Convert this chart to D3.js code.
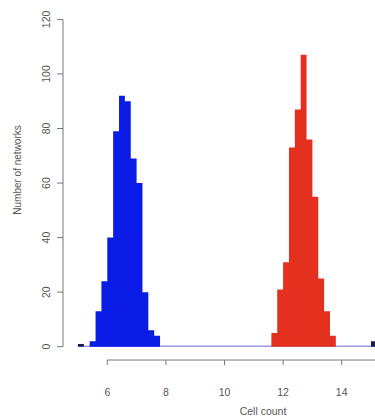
<!DOCTYPE html>
<html><head><meta charset="utf-8">
<script src="https://cdn.jsdelivr.net/npm/d3@7/dist/d3.min.js"></script>
<style>body{margin:0;background:#fff}svg{display:block}text{font-family:"Liberation Sans",Arial,sans-serif}</style>
</head><body>
<script>
const binWidth = 0.2;
const blueStart = 5.4;
const blueCounts = [2,13,24,40,79,92,90,69,60,20,6,4];
const redStart = 11.6;
const redCounts = [5,21,31,73,87,107,76,55,25,13,4];
const darkStarts = [5.0, 15.0];
const darkCounts = [1, 2];
const xTicks = [6,8,10,12,14];
const yTicks = [0,20,40,60,80,100,120];

const W=375,H=420;
const svg=d3.select("body").append("svg").attr("width",W).attr("height",H);
const x=d3.scaleLinear().domain([6,14]).range([107.3,341.7]);
const y=d3.scaleLinear().domain([0,120]).range([346.7,19.4]);

function bins(start,counts){return counts.map((c,i)=>({x0:+(start+i*binWidth).toFixed(2),c}));}
const blue=bins(blueStart,blueCounts), red=bins(redStart,redCounts);
const dark=darkStarts.map((s,i)=>({x0:s,c:darkCounts[i]}));

// baseline
svg.append("line").attr("x1",x(5.0)).attr("x2",W).attr("y1",y(0)-0.5).attr("y2",y(0)-0.5)
  .attr("stroke","#9a9ae0").attr("stroke-width",1.5);

const area=d3.area().curve(d3.curveStepAfter).x(d=>x(d.x)).y0(y(0)).y1(d=>y(d.c));
function draw(data,color){
  const pts=data.map(d=>({x:d.x0,c:d.c}));
  const last=data[data.length-1];
  pts.push({x:+(last.x0+binWidth).toFixed(2),c:last.c});
  svg.append("path").datum(pts).attr("d",area).attr("fill",color);
}
draw(blue,"#0a1ce6");
draw(red,"#e3301f");
svg.append("g").selectAll("rect").data(dark).enter().append("rect")
  .attr("x",d=>x(d.x0)).attr("width",d=>x(d.x0+binWidth)-x(d.x0))
  .attr("y",d=>y(d.c)).attr("height",d=>y(0)-y(d.c)).attr("fill","#1a1a55");

// y axis
const ya=svg.append("g").attr("transform","translate(63,0)");
ya.append("line").attr("x1",0).attr("x2",0).attr("y1",y(0)).attr("y2",y(120)).attr("stroke","#777");
yTicks.forEach(t=>{
  ya.append("line").attr("x1",-6).attr("x2",0).attr("y1",y(t)).attr("y2",y(t)).attr("stroke","#777");
  ya.append("text").attr("transform",`translate(-17,${y(t)}) rotate(-90)`).attr("text-anchor","middle")
    .attr("dy","0.35em").attr("font-size",10.5).attr("fill","#555").text(t);
});
svg.append("text").attr("transform",`translate(17,170) rotate(-90)`).attr("text-anchor","middle")
  .attr("dy","0.35em").attr("font-size",10).attr("fill","#555").text("Number of networks");

// x axis
const xa=svg.append("g").attr("transform","translate(0,360)");
xa.append("line").attr("x1",x(6)).attr("x2",W).attr("y1",0).attr("y2",0).attr("stroke","#777");
xTicks.forEach(t=>{
  xa.append("line").attr("x1",x(t)).attr("x2",x(t)).attr("y1",0).attr("y2",5).attr("stroke","#777");
  xa.append("text").attr("x",x(t)).attr("y",32).attr("text-anchor","middle").attr("dy","0.35em")
    .attr("font-size",10.5).attr("fill","#555").text(t);
});
svg.append("text").attr("x",263).attr("y",411.5).attr("text-anchor","middle").attr("dy","0.35em")
  .attr("font-size",10.5).attr("fill","#555").text("Cell count");
</script>
</body></html>
